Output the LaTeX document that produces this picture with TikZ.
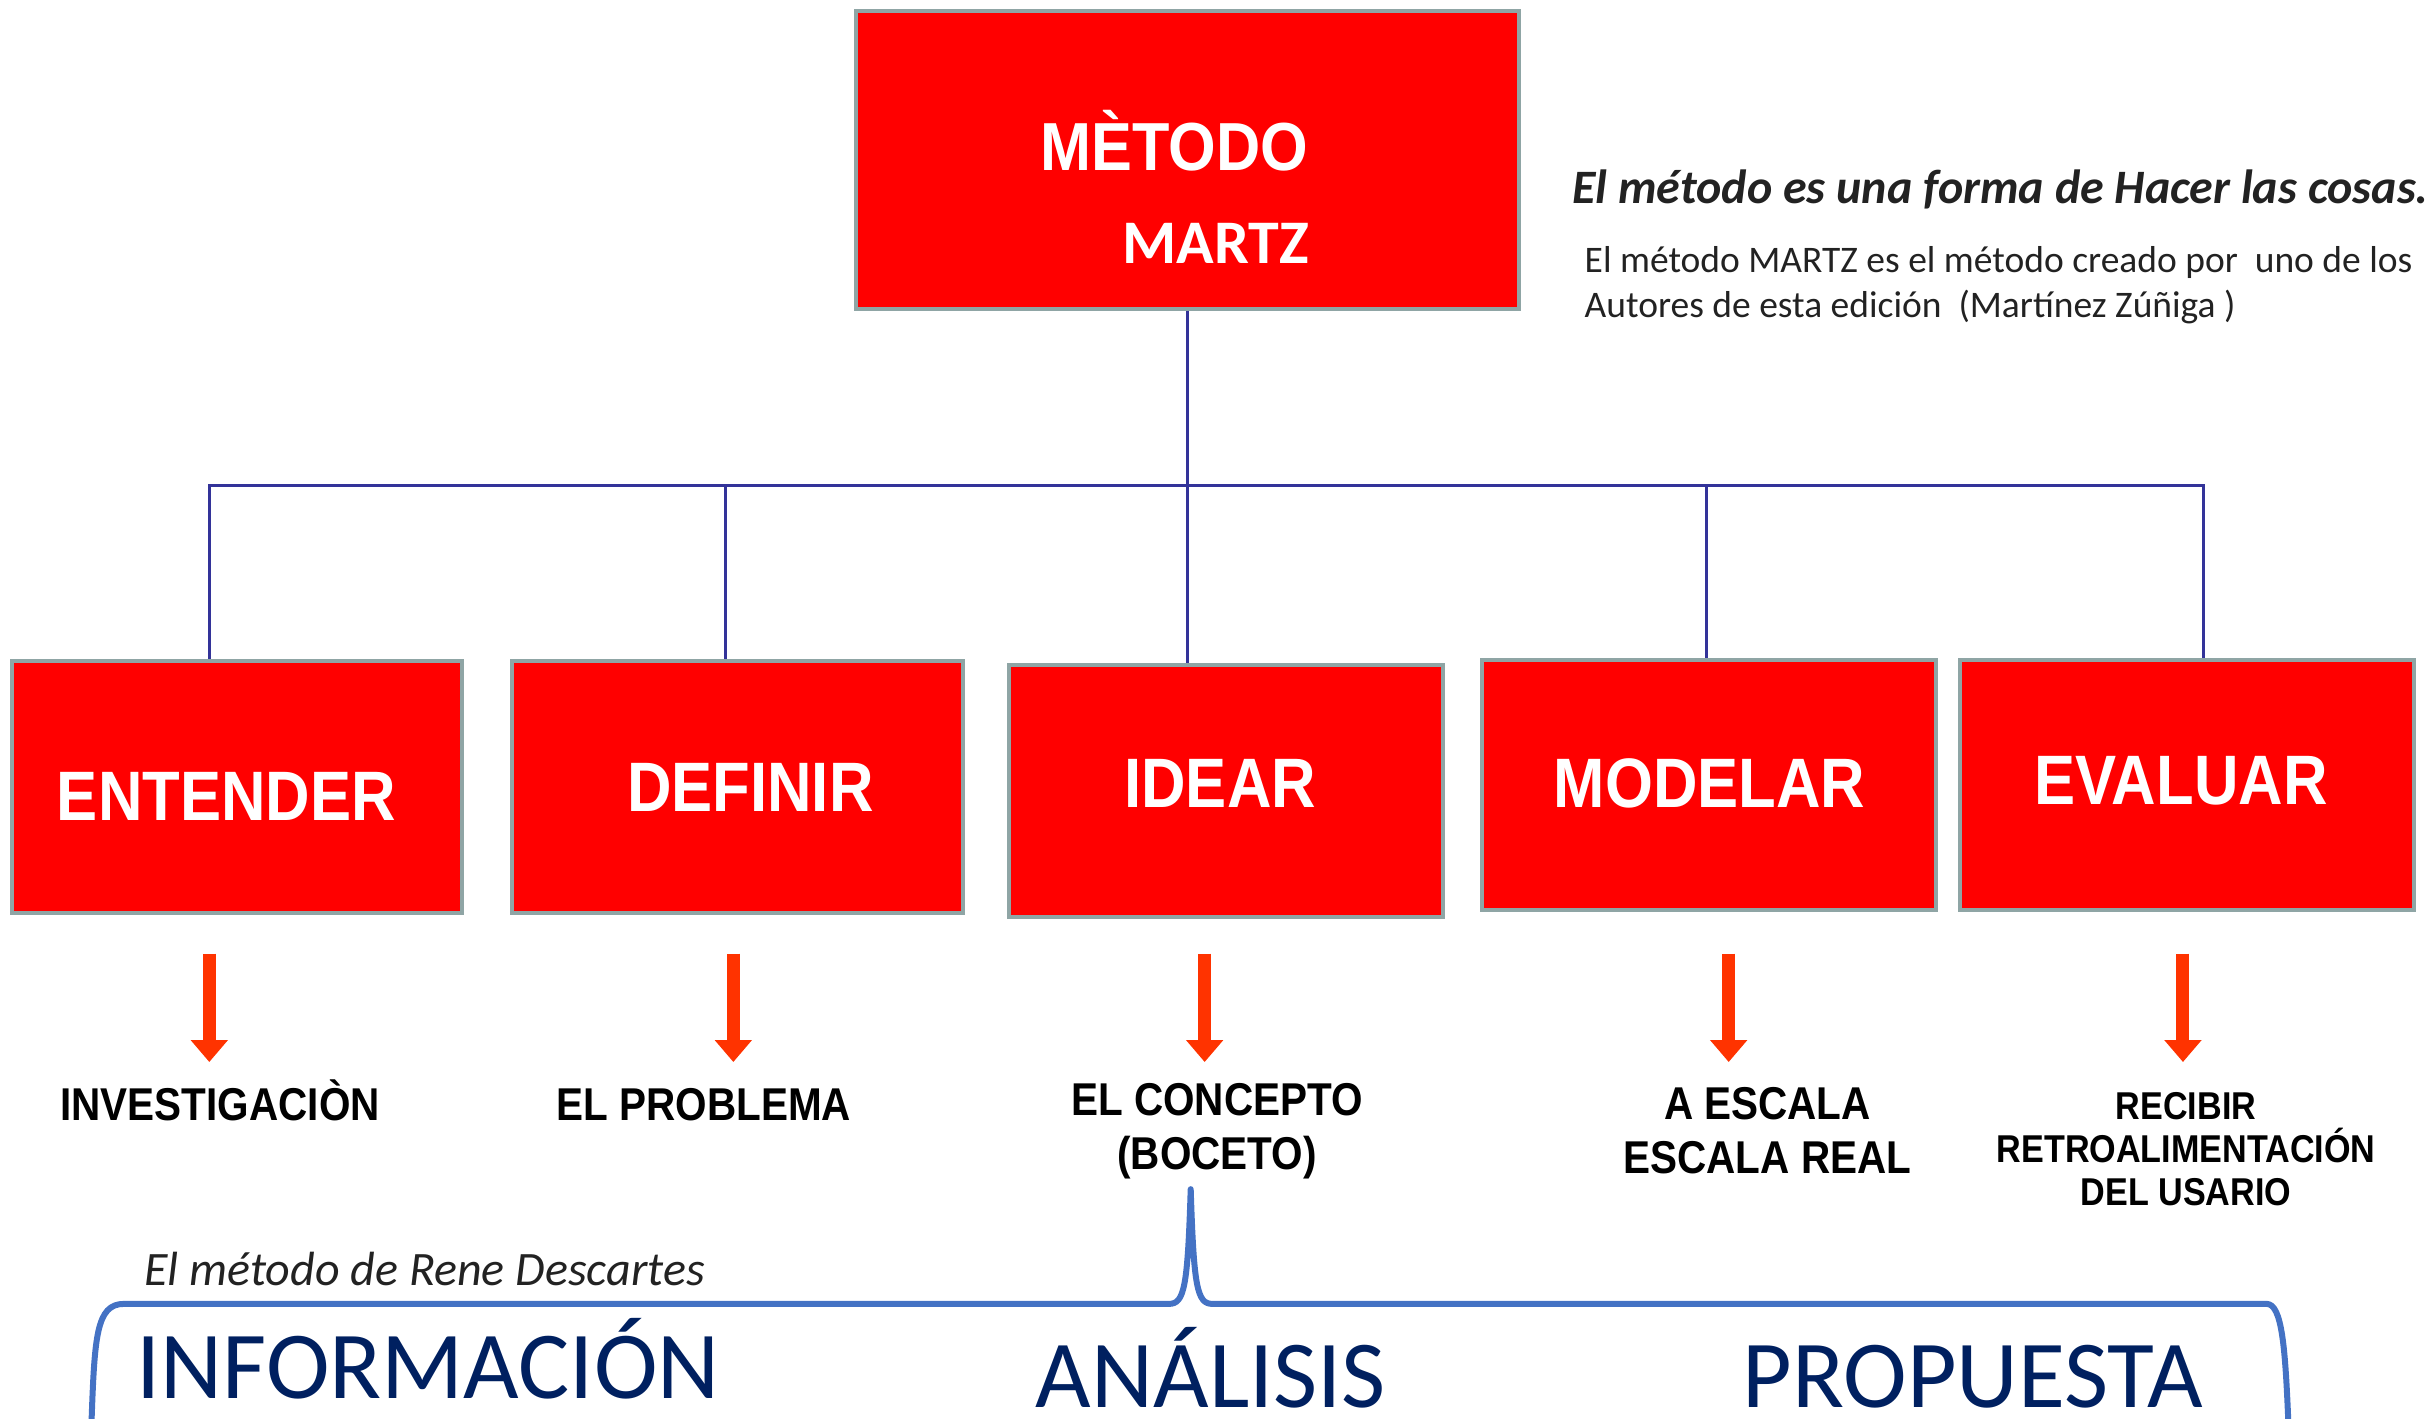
\documentclass[tikz,border=0pt]{standalone}
\usepackage{fontspec}
\setmainfont{Carlito}
\newfontfamily\arialb[FakeStretch=0.88]{Liberation Sans}
\newfontfamily\arialm[FakeStretch=0.90]{Liberation Sans}
\usetikzlibrary{arrows.meta,calc}
\definecolor{boxred}{HTML}{FF0000}
\definecolor{boxedge}{HTML}{8FA5A5}
\definecolor{connblue}{HTML}{333399}
\definecolor{arrred}{HTML}{FF3300}
\definecolor{bracecol}{HTML}{4472C4}
\definecolor{navy}{HTML}{002060}
\definecolor{txtgray}{HTML}{222222}
\tikzset{
  redbox/.style={draw=boxedge, fill=boxred, line width=4pt, inner sep=0pt,
    minimum width=450pt, minimum height=252pt},
  boxtext/.style={text=white, anchor=base, inner sep=0pt,
    font=\arialb\bfseries\fontsize{70}{76}\selectfont},
  conn/.style={draw=connblue, line width=3pt},
  downarrow/.style={draw=arrred, line width=13pt, -{Triangle[width=36pt,length=22pt]}},
  sublabel/.style={font=\arialb\bfseries\fontsize{46}{54}\selectfont, align=center, inner sep=0pt},
  bigword/.style={text=navy, font=\fontsize{96}{100}\selectfont, inner sep=0pt, anchor=base west},
  bracepath/.style={draw=bracecol, line width=6pt, line join=round},
}
\begin{document}
\begin{tikzpicture}[x=1.5504pt, y=-1.5504pt]
\useasboundingbox (0,0) rectangle (1568,915);
% top box
\node[redbox, minimum width=663pt, minimum height=298pt] (top) at (766,103) {};
\node[text=white, anchor=base, font=\arialm\bfseries\fontsize{68}{74}\selectfont, inner sep=0pt] (metodo) at (757.5,110) {MÈTODO};
\node[text=white, anchor=base, font=\bfseries\fontsize{62}{70}\selectfont, inner sep=0pt] (martz) at (784,170) {MARTZ};
% right texts
\node[anchor=base west, text=txtgray, font=\bfseries\itshape\fontsize{48}{54}\selectfont, inner sep=0pt] (t1) at (1014,131) {El método es una forma de Hacer las cosas.};
\node[anchor=base west, text=txtgray, font=\fontsize{37.5}{42}\selectfont, inner sep=0pt] (t2) at (1022,176) {El método MARTZ es el método creado por\ \ uno de los};
\node[anchor=base west, text=txtgray, font=\fontsize{37.5}{42}\selectfont, inner sep=0pt] (t3) at (1022,205) {Autores de esta edición\ \ (Martínez Zúñiga )};
% second row
\node[redbox, minimum width=450pt] (n1) at (153,507.5) {};
\node[redbox, minimum width=451pt] (n2) at (475.5,507.5) {};
\node[redbox, minimum width=434pt] (n3) at (791,510.5) {};
\node[redbox, minimum width=454pt, minimum height=250pt] (n4) at (1102.5,506.5) {};
\node[redbox, minimum width=454pt, minimum height=250pt] (n5) at (1410.5,506.5) {};
\node[boxtext] (n1t) at (146,529) {ENTENDER};
\node[boxtext] (n2t) at (484,523.7) {DEFINIR};
\node[boxtext] (n3t) at (787,520.6) {IDEAR};
\node[boxtext] (n4t) at (1102.6,520.6) {MODELAR};
\node[boxtext] (n5t) at (1406.7,518.6) {EVALUAR};
% tree connectors
\coordinate (bus) at (766,313);
\coordinate (x1) at (135,0);
\coordinate (x2) at (468,0);
\coordinate (x3) at (766,0);
\coordinate (x4) at (1101,0);
\coordinate (x5) at (1421,0);
\draw[conn] (top.south) -- (bus);
\draw[conn] (bus) -| (n1.north -| x1);
\draw[conn] (bus) -| (n2.north -| x2);
\draw[conn] (bus) -- (n3.north -| x3);
\draw[conn] (bus) -| (n4.north -| x4);
\draw[conn] (bus) -| (n5.north -| x5);
% labels
\node[sublabel, anchor=base] (l1) at (142,722.4) {INVESTIGACIÒN};
\node[sublabel, anchor=base] (l2) at (454,722.4) {EL PROBLEMA};
\node[sublabel] (l3) at (785,729.5) {EL CONCEPTO\\(BOCETO)};
\node[sublabel] (l4) at (1140,729.5) {A ESCALA\\ESCALA REAL};
\node[sublabel, font=\arialb\bfseries\fontsize{38.8}{43}\selectfont] (l5) at (1410,741) {RECIBIR\\RETROALIMENTACIÓN\\DEL USARIO};
% arrows
\coordinate (a1s) at (135,615); \coordinate (a1e) at (135,685);
\coordinate (a2s) at (473,615); \coordinate (a2e) at (473,685);
\coordinate (a3s) at (777,615); \coordinate (a3e) at (777,685);
\coordinate (a4s) at (1115,615); \coordinate (a4e) at (1115,685);
\coordinate (a5s) at (1408,615); \coordinate (a5e) at (1408,685);
\draw[downarrow] (a1s) -- (a1e);
\draw[downarrow] (a2s) -- (a2e);
\draw[downarrow] (a3s) -- (a3e);
\draw[downarrow] (a4s) -- (a4e);
\draw[downarrow] (a5s) -- (a5e);
% Descartes
\node[anchor=base west, text=txtgray, font=\itshape\fontsize{48}{52}\selectfont, inner sep=0pt] (desc) at (93,829) {El método de Rene Descartes};
% brace
\coordinate (bl) at (59,918);
\coordinate (bpeak) at (768,767);
\coordinate (br) at (1476,918);
\draw[bracepath] (bl) .. controls (61,862) and (62,841) .. (80,841) -- (754,841)
  .. controls (764,841) and (766,830) .. (bpeak)
  .. controls (770,830) and (772,841) .. (782,841) -- (1462,841)
  .. controls (1472,841) and (1474,870) .. (br);
% big words
\node[bigword] (info) at (88,902) {INFORMACIÓN};
\node[bigword] (anal) at (668,908) {ANÁLISIS};
\node[bigword] (prop) at (1124,908) {PROPUESTA};
\end{tikzpicture}
\end{document}
